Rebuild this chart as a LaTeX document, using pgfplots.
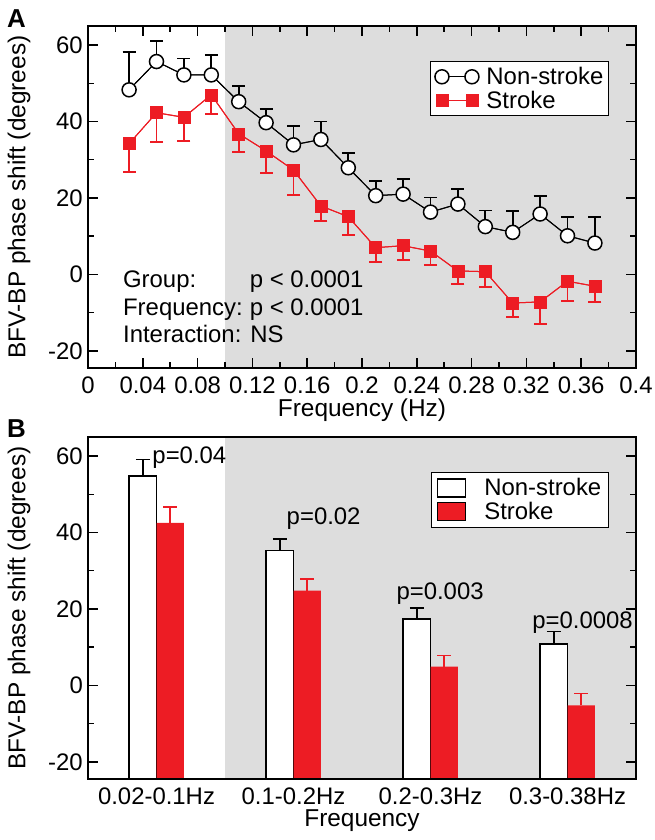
\documentclass[border=0pt]{standalone}
\usepackage{pgfplots}
\pgfplotsset{compat=1.18}
\usepackage{pgfplotstable}
\usepackage{fontspec}
\setmainfont{Liberation Sans}
\definecolor{strokered}{RGB}{237,28,36}
\definecolor{shadegray}{RGB}{221,221,221}

\pgfplotstableread{
f m e
0.03 48.3 10.0
0.05 55.7 5.4
0.07 52.2 4.3
0.09 52.2 5.2
0.11 45.2 4.1
0.13 39.7 3.5
0.15 33.9 4.9
0.17 35.3 4.7
0.19 27.9 3.8
0.21 20.6 3.8
0.23 21.0 4.0
0.25 16.3 3.8
0.27 18.4 3.9
0.29 12.5 4.2
0.31 11.0 5.5
0.33 15.8 4.7
0.35 10.1 5.0
0.37 8.2 6.9
}\nonstroke

\pgfplotstableread{
f m e
0.03 34.2 7.5
0.05 42.3 7.7
0.07 41.1 6.1
0.09 47.0 5.0
0.11 36.8 4.7
0.13 32.3 5.7
0.15 27.3 6.6
0.17 17.9 3.9
0.19 15.1 4.7
0.21 7.0 3.8
0.23 7.5 3.8
0.25 6.1 3.6
0.27 0.9 3.5
0.29 0.7 4.0
0.31 -7.5 3.7
0.33 -7.2 5.8
0.35 -1.8 5.2
0.37 -3.1 4.1
}\stroke

\pgfplotstableread{
c m e
0 54.8 4.3
1 35.3 3.0
2 17.4 2.8
3 10.8 3.3
}\barns

\pgfplotstableread{
c m e
0 42.5 4.1
1 24.8 3.1
2 4.9 2.9
3 -5.2 3.1
}\barst

\newcommand{\fs}{\fontsize{24}{28}\selectfont}

\pgfplotsset{
  common/.style={
    scale only axis, width=548bp, height=342bp,
    axis on top,
    axis line style={line width=2bp},
    tick align=inside, tick pos=both,
    xticklabel pos=lower, yticklabel pos=left,
    major tick length=10bp, minor tick length=6bp,
    every tick/.style={black, line width=1.5bp},
    tick label style={font=\fontsize{24}{28}\selectfont},
    yticklabel style={anchor=east, inner sep=0pt, xshift=-5bp},
    xticklabel style={anchor=base, inner sep=0pt, yshift=-25bp},
    label style={font=\fontsize{24.5}{28}\selectfont},
    ylabel style={at={(axis description cs:-0.126,0.5)}, anchor=center},
    xlabel style={at={(axis description cs:0.5,-0.1228)}, anchor=center},
    ylabel={BFV-BP phase shift (degrees)},
    legend cell align=left,
  }
}

\begin{document}
\begin{tikzpicture}
\path[use as bounding box] (0bp,0bp) rectangle (655bp,-840bp);
\node[anchor=base west, inner sep=0pt, font=\fontsize{26}{30}\selectfont\bfseries] at (7bp,-27bp) {A};
\node[anchor=base west, inner sep=0pt, font=\fontsize{26}{30}\selectfont\bfseries] at (7bp,-437bp) {B};

\begin{axis}[common,
  at={(88bp,-368bp)}, anchor=south west,
  xmin=0, xmax=0.4, ymin=-24.5, ymax=65,
  xtick={0,0.04,0.08,0.12,0.16,0.2,0.24,0.28,0.32,0.36,0.4},
  xticklabels={0,0.04,0.08,0.12,0.16,0.2,0.24,0.28,0.32,0.36,0.4},
  minor xtick={0.02,0.06,0.1,0.14,0.18,0.22,0.26,0.3,0.34,0.38},
  ytick={-20,0,20,40,60}, yticklabels={-20,0,20,40,60},
  minor ytick={-10,10,30,50},
  xlabel={Frequency (Hz)},
  legend image code/.code={\path (-8bp,0bp) (42bp,0bp);\draw[mark repeat=2, mark phase=1, #1] plot coordinates {(0bp,0bp) (15bp,0bp) (30bp,0bp)};},
  legend style={at={(0.624,0.898)}, anchor=north west, draw=black, line width=1bp,
    font=\fs, inner xsep=3bp, inner ysep=4bp, row sep=1bp},
]
\fill[shadegray] (rel axis cs:0.25,0) rectangle (rel axis cs:1,1);

\addplot[forget plot, black, line width=1bp, mark=none,
  error bars/.cd, y dir=plus, y explicit,
  error bar style={line width=1.8bp, black},
  error mark options={rotate=90, line width=1.8bp, black, mark size=6.5bp}]
  table[x=f, y=m, y error=e] {\nonstroke};
\addplot[black, line width=1bp, mark=*, mark size=7bp,
  mark options={fill=white, draw=black, line width=1.5bp}]
  table[x=f, y=m] {\nonstroke};
\addlegendentry{Non-stroke}

\addplot[forget plot, strokered, line width=1bp, mark=none,
  error bars/.cd, y dir=minus, y explicit,
  error bar style={line width=1.8bp, strokered},
  error mark options={rotate=90, line width=1.8bp, strokered, mark size=6.5bp}]
  table[x=f, y=m, y error=e] {\stroke};
\addplot[strokered, line width=1bp, mark=square*, mark size=6bp,
  mark options={fill=strokered, draw=strokered, line width=0.5bp}]
  table[x=f, y=m] {\stroke};
\addlegendentry{Stroke}

\node[anchor=base west, font=\fs, inner sep=0pt] at (axis cs:0.0255,-3.5) {Group:};
\node[anchor=base west, font=\fs, inner sep=0pt] at (axis cs:0.118,-3.5) {p < 0.0001};
\node[anchor=base west, font=\fs, inner sep=0pt] at (axis cs:0.0255,-10.85) {Frequency:};
\node[anchor=base west, font=\fs, inner sep=0pt] at (axis cs:0.118,-10.85) {p < 0.0001};
\node[anchor=base west, font=\fs, inner sep=0pt] at (axis cs:0.0255,-17.9) {Interaction: NS};
\end{axis}

\begin{axis}[common,
  at={(88bp,-779bp)}, anchor=south west,
  xmin=-0.5, xmax=3.5, ymin=0, ymax=89.5,
  xtick={0,1,2,3},
  xticklabels={0.02-0.1Hz,0.1-0.2Hz,0.2-0.3Hz,0.3-0.38Hz},
  xtick style={draw=none},
  ytick={4.5,24.5,44.5,64.5,84.5}, yticklabels={-20,0,20,40,60},
  minor ytick={14.5,34.5,54.5,74.5},
  xlabel={Frequency},
  legend image code/.code={\path (0bp,0bp) (44bp,0bp);\draw[#1] (0bp,-9bp) rectangle (28bp,9bp);},
  legend style={at={(0.626,0.898)}, anchor=north west, draw=black, line width=1bp,
    font=\fs, inner xsep=5bp, inner ysep=4bp, row sep=1bp},
]
\fill[shadegray] (rel axis cs:0.25,0) rectangle (rel axis cs:1,1);

\addplot[ybar, bar width=0.2, bar shift=-0.1, draw=black, line width=1.8bp, fill=white]
  table[x=c, y expr=\thisrow{m}+24.5] {\barns};
\addlegendentry{Non-stroke}
\addplot[ybar, bar width=0.2, bar shift=0.1, draw=none, fill=strokered]
  table[x=c, y expr=\thisrow{m}+24.5] {\barst};
\addlegendentry{Stroke}

\addplot[forget plot, draw=none, mark=none,
  error bars/.cd, y dir=plus, y explicit,
  error bar style={draw=black, line width=1.8bp},
  error mark options={rotate=90, draw=black, line width=1.8bp, mark size=7bp}]
  table[x expr=\thisrow{c}-0.1, y expr=\thisrow{m}+24.5, y error=e] {\barns};
\addplot[forget plot, draw=none, mark=none,
  error bars/.cd, y dir=plus, y explicit,
  error bar style={draw=strokered, line width=1.8bp},
  error mark options={rotate=90, draw=strokered, line width=1.8bp, mark size=7bp}]
  table[x expr=\thisrow{c}+0.1, y expr=\thisrow{m}+24.5, y error=e] {\barst};

\node[font=\fs, inner sep=0pt] at (axis cs:0.24,84.2) {p=0.04};
\node[font=\fs, inner sep=0pt] at (axis cs:1.22,68.2) {p=0.02};
\node[font=\fs, inner sep=0pt] at (axis cs:2.07,48.5) {p=0.003};
\node[font=\fs, inner sep=0pt] at (axis cs:3.11,40.9) {p=0.0008};
\end{axis}
\end{tikzpicture}
\end{document}
